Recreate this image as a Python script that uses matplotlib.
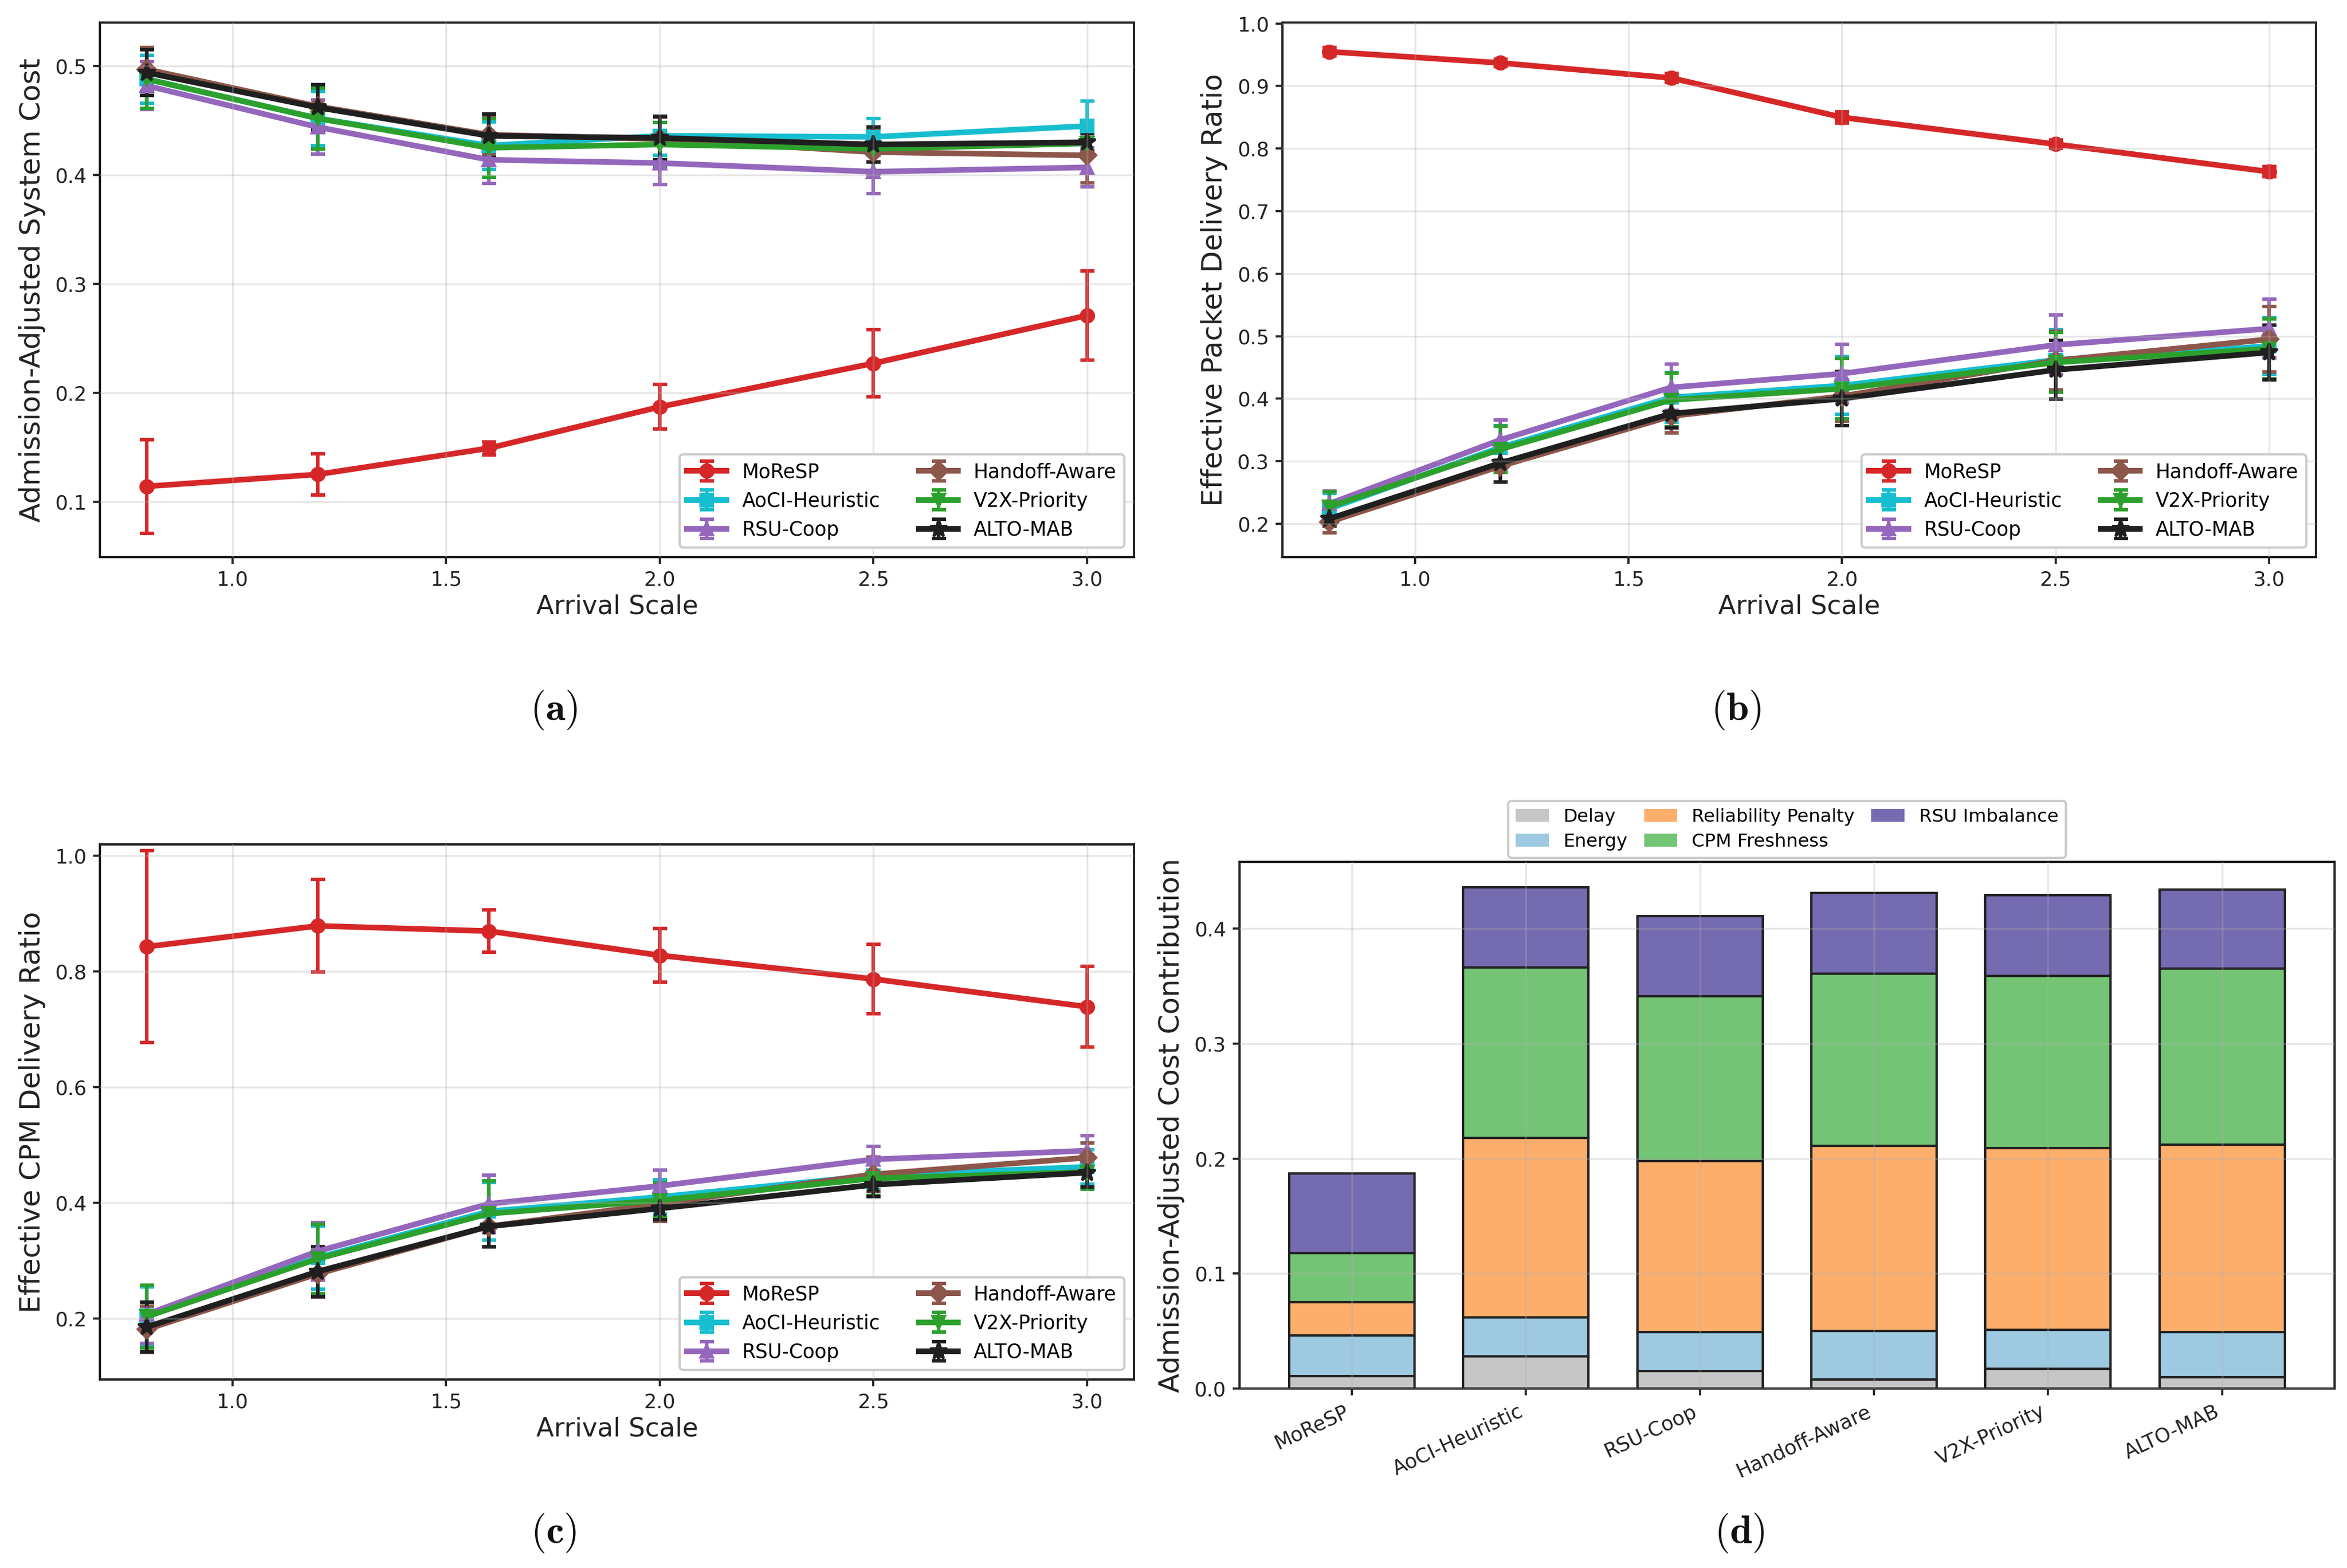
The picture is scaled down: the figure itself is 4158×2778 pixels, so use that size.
import matplotlib
matplotlib.use("Agg")
import matplotlib.pyplot as plt
from matplotlib.patches import Patch
import numpy as np

plt.rcParams['font.family'] = ['DejaVu Sans']
plt.rcParams['mathtext.fontset'] = 'cm'

# ---------------- data ----------------
arrival_scale = [0.8, 1.2, 1.6, 2.0, 2.5, 3.0]
methods = ["MoReSP", "AoCI-Heuristic", "RSU-Coop", "Handoff-Aware", "V2X-Priority", "ALTO-MAB"]

# (a) Admission-adjusted system cost
cost_moresp = [0.114, 0.125, 0.149, 0.187, 0.227, 0.271]
cost_moresp_err = [0.043, 0.019, 0.006, 0.0205, 0.031, 0.041]
cost_aoci = [0.488, 0.452, 0.427, 0.436, 0.435, 0.445]
cost_aoci_err = [0.022, 0.025, 0.022, 0.018, 0.017, 0.023]
cost_rsu = [0.482, 0.444, 0.414, 0.411, 0.403, 0.407]
cost_rsu_err = [0.022, 0.025, 0.022, 0.020, 0.020, 0.018]
cost_handoff = [0.497, 0.463, 0.437, 0.433, 0.421, 0.418]
cost_handoff_err = [0.020, 0.020, 0.018, 0.020, 0.020, 0.025]
cost_v2x = [0.488, 0.452, 0.425, 0.428, 0.424, 0.429]
cost_v2x_err = [0.027, 0.028, 0.027, 0.020, 0.020, 0.010]
cost_alto = [0.494, 0.462, 0.436, 0.434, 0.428, 0.430]
cost_alto_err = [0.021, 0.021, 0.020, 0.020, 0.016, 0.008]

# (b) Effective packet delivery ratio
pdr_moresp = [0.955, 0.937, 0.913, 0.850, 0.807, 0.763]
pdr_moresp_err = [0.007, 0.006, 0.007, 0.009, 0.007, 0.008]
pdr_aoci = [0.224, 0.322, 0.402, 0.421, 0.462, 0.484]
pdr_aoci_err = [0.025, 0.035, 0.040, 0.046, 0.048, 0.045]
pdr_rsu = [0.232, 0.334, 0.418, 0.440, 0.486, 0.512]
pdr_rsu_err = [0.020, 0.032, 0.037, 0.047, 0.048, 0.047]
pdr_handoff = [0.203, 0.292, 0.372, 0.404, 0.461, 0.495]
pdr_handoff_err = [0.018, 0.025, 0.027, 0.040, 0.047, 0.052]
pdr_v2x = [0.227, 0.319, 0.398, 0.416, 0.458, 0.480]
pdr_v2x_err = [0.024, 0.037, 0.043, 0.048, 0.048, 0.048]
pdr_alto = [0.208, 0.297, 0.376, 0.400, 0.446, 0.474]
pdr_alto_err = [0.012, 0.030, 0.023, 0.043, 0.047, 0.044]

# (c) Effective CPM delivery ratio
cpm_moresp = [0.843, 0.879, 0.870, 0.828, 0.787, 0.739]
cpm_moresp_err = [0.166, 0.080, 0.037, 0.046, 0.060, 0.070]
cpm_aoci = [0.204, 0.305, 0.385, 0.410, 0.447, 0.462]
cpm_aoci_err = [0.050, 0.055, 0.050, 0.030, 0.025, 0.030]
cpm_rsu = [0.207, 0.316, 0.398, 0.429, 0.475, 0.490]
cpm_rsu_err = [0.050, 0.050, 0.050, 0.027, 0.022, 0.026]
cpm_handoff = [0.181, 0.277, 0.359, 0.398, 0.449, 0.478]
cpm_handoff_err = [0.040, 0.040, 0.035, 0.030, 0.030, 0.025]
cpm_v2x = [0.203, 0.303, 0.381, 0.404, 0.442, 0.453]
cpm_v2x_err = [0.054, 0.060, 0.057, 0.030, 0.030, 0.030]
cpm_alto = [0.185, 0.281, 0.359, 0.390, 0.431, 0.452]
cpm_alto_err = [0.043, 0.043, 0.035, 0.020, 0.020, 0.025]

# (d) Cost breakdown
components = ["Delay", "Energy", "Reliability Penalty", "CPM Freshness", "RSU Imbalance"]
delay_part = [0.011, 0.028, 0.015, 0.008, 0.017, 0.010]
energy_part = [0.035, 0.034, 0.034, 0.042, 0.034, 0.039]
reliability_part = [0.029, 0.156, 0.149, 0.161, 0.158, 0.163]
cpm_part = [0.043, 0.148, 0.143, 0.150, 0.150, 0.153]
rsu_part = [0.069, 0.070, 0.070, 0.070, 0.070, 0.069]

# ---------------- style ----------------
line_colors = ["#d62728", "#17becf", "#9467bd", "#8c564b", "#2ca02c", "#1f1f1f"]
line_markers = ["o", "s", "^", "D", "v", "*"]
bar_colors = ["#c6c6c6", "#9ecae1", "#fdae6b", "#74c476", "#756bb1"]
DARK = "#222222"
TICK_FS = 8.5
LEG_FS = 8.3
XLAB_FS = 11
YLAB_FS = 12


def style_axes(ax):
    for s in ax.spines.values():
        s.set_color(DARK)
        s.set_linewidth(0.95)
    ax.tick_params(axis='both', labelsize=TICK_FS, colors=DARK, length=2.8, width=0.9, pad=2.8)
    ax.grid(True, color="#b0b0b0", alpha=0.3, linewidth=0.8)
    ax.set_axisbelow(False)


def line_panel(ax, series, errs, ylabel, ylim):
    for name, y, e, c, m in zip(methods, series, errs, line_colors, line_markers):
        ms = 7.5 if m == "*" else 5.5
        ax.errorbar(arrival_scale, y, yerr=e, color=c, marker=m, markersize=ms,
                    linewidth=2.4, elinewidth=1.5, capsize=3, capthick=1.5, label=name)
    ax.set_xlabel("Arrival Scale", fontsize=XLAB_FS, color=DARK, labelpad=2)
    ax.set_ylabel(ylabel, fontsize=YLAB_FS, color=DARK)
    ax.set_ylim(*ylim)
    ax.set_xticks([1.0, 1.5, 2.0, 2.5, 3.0])
    style_axes(ax)
    leg = ax.legend(loc="lower right", ncol=2, fontsize=LEG_FS, frameon=True,
                    fancybox=True, edgecolor="#cccccc", framealpha=1.0)
    leg.get_frame().set_linewidth(1.0)


fig = plt.figure(figsize=(4158 / 300, 2778 / 300), dpi=300)

ax_a = fig.add_axes([0.0426, 0.6447, 0.4406, 0.3409])
ax_b = fig.add_axes([0.5464, 0.6447, 0.4404, 0.3409])
ax_c = fig.add_axes([0.0426, 0.1202, 0.4406, 0.3413])
ax_d = fig.add_axes([0.5281, 0.1145, 0.4666, 0.3358])

line_panel(ax_a,
           [cost_moresp, cost_aoci, cost_rsu, cost_handoff, cost_v2x, cost_alto],
           [cost_moresp_err, cost_aoci_err, cost_rsu_err, cost_handoff_err, cost_v2x_err, cost_alto_err],
           "Admission-Adjusted System Cost", (0.049, 0.540))
ax_a.set_yticks([0.1, 0.2, 0.3, 0.4, 0.5])

line_panel(ax_b,
           [pdr_moresp, pdr_aoci, pdr_rsu, pdr_handoff, pdr_v2x, pdr_alto],
           [pdr_moresp_err, pdr_aoci_err, pdr_rsu_err, pdr_handoff_err, pdr_v2x_err, pdr_alto_err],
           "Effective Packet Delivery Ratio", (0.1466, 1.0015))
ax_b.set_yticks([0.2, 0.3, 0.4, 0.5, 0.6, 0.7, 0.8, 0.9, 1.0])

line_panel(ax_c,
           [cpm_moresp, cpm_aoci, cpm_rsu, cpm_handoff, cpm_v2x, cpm_alto],
           [cpm_moresp_err, cpm_aoci_err, cpm_rsu_err, cpm_handoff_err, cpm_v2x_err, cpm_alto_err],
           "Effective CPM Delivery Ratio", (0.094, 1.02))
ax_c.set_yticks([0.2, 0.4, 0.6, 0.8, 1.0])

# (d) stacked bars
xpos = np.arange(len(methods))
bottom = np.zeros(len(methods))
handles = []
for comp, vals, col in zip(components, [delay_part, energy_part, reliability_part, cpm_part, rsu_part], bar_colors):
    ax_d.bar(xpos, vals, width=0.72, bottom=bottom, color=col, edgecolor=DARK,
             linewidth=1.0)
    handles.append(Patch(facecolor=col, edgecolor="none", label=comp))
    bottom += np.array(vals)
ax_d.set_xticks(xpos)
ax_d.set_xticklabels(methods, rotation=25, ha="right")
ax_d.set_ylabel("Admission-Adjusted Cost Contribution", fontsize=YLAB_FS, color=DARK)
ax_d.set_ylim(0, 0.458)
ax_d.set_yticks([0.0, 0.1, 0.2, 0.3, 0.4])
style_axes(ax_d)
legd = ax_d.legend(handles=handles, loc="lower center", bbox_to_anchor=(0.5, 1.008), ncol=3,
                   fontsize=7.8, frameon=True, fancybox=True, edgecolor="#cccccc",
                   framealpha=1.0, borderaxespad=0, columnspacing=0.9,
                   handlelength=1.8, labelspacing=0.4)
legd.get_frame().set_linewidth(1.0)

# captions
for lbl, (cx, cy) in zip("abcd", [(981, 1258), (3076, 1258), (981, 2716), (3082, 2716)]):
    fig.text(cx / 4158, 1 - cy / 2778, r"$(\mathbf{%s})$" % lbl, fontsize=17,
             ha="center", va="center", color="#111111")

fig.savefig("out.png", dpi=300)
